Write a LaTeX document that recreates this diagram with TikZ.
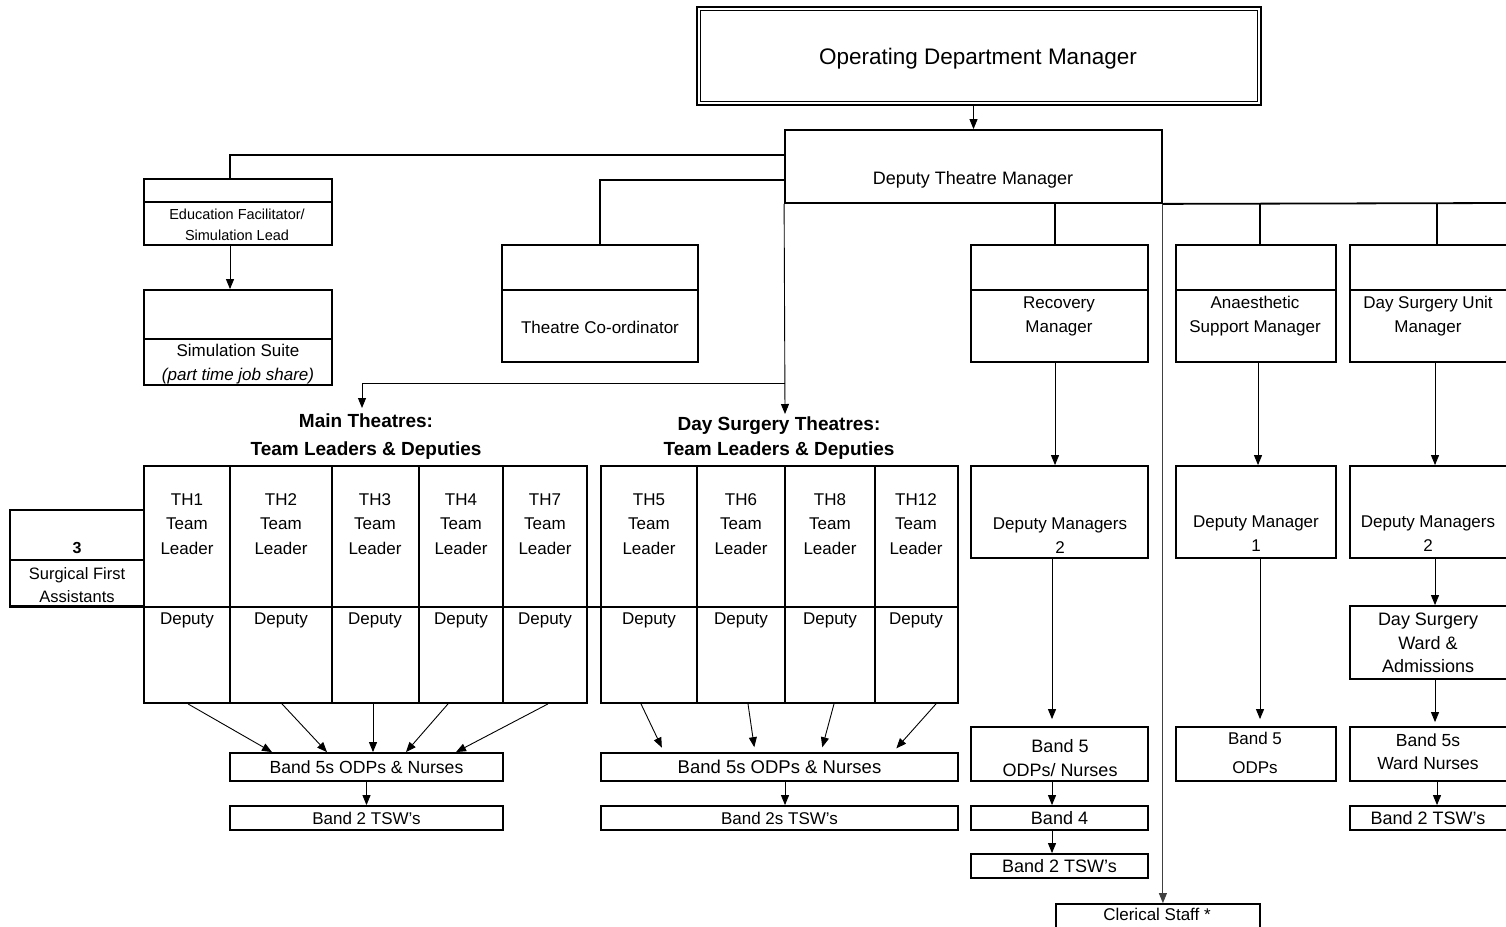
\documentclass[tikz,border=0pt]{standalone}
\usepackage{fontspec}
\setmainfont{Liberation Sans}
\usetikzlibrary{arrows.meta,calc}
\tikzset{
  bx/.style={draw, line width=1.8pt, inner sep=0pt, rectangle, font=\fontsize{17}{24}\selectfont},
  conn/.style={line width=1.8pt},
  arr/.style={line width=0.9pt, -{Triangle[length=10pt,width=8pt]}},
  lbl/.style={inner sep=0pt, align=center, font=\fontsize{17}{24}\selectfont},
  head/.style={inner sep=0pt, align=center, font=\bfseries\fontsize{19}{28}\selectfont},
}
\newcommand{\mybox}[6][]{\node[bx,#1, minimum width={(#5-#3)*1pt}, minimum height={(#6-#4)*1pt}] (#2) at ({(#3+#5)/2},{(#4+#6)/2}) {};}
\begin{document}
\begin{tikzpicture}[x=1pt,y=-1pt]
\clip (0,0) rectangle (1506,926);
\fill[white] (0,0) rectangle (1506,926);

% Operating Department Manager
\mybox[line width=1.7pt]{odm}{697}{7}{1261}{105}
\draw[line width=0.8pt] ($(odm.north west)+(4,4)$) rectangle ($(odm.south east)+(-4,-4)$);
\node[lbl, font=\fontsize{22.5}{24}\selectfont] (odmt) at (978,59) {Operating Department Manager};

% Deputy Theatre Manager
\mybox{dtm}{785}{130}{1162}{203}
\node[lbl, font=\fontsize{18}{24}\selectfont] (dtmt) at (973,180) {Deputy Theatre Manager};
\draw[arr] (dtm.north |- odm.south) -- (dtm.north);

% Education facilitator
\mybox{edu}{144}{179}{332}{245}
\draw[conn] (edu.west |- 0,202) -- (edu.east |- 0,202);
\node[lbl, font=\fontsize{14.5}{21}\selectfont] (edut) at (237,225) {Education Facilitator/\\Simulation Lead};

% Simulation suite
\mybox{sim}{144}{290}{332}{385}
\draw[conn] (sim.west |- 0,339) -- (sim.east |- 0,339);
\node[lbl] (simt) at (238,364) {Simulation Suite\\\textit{(part time job share)}};

% Theatre co-ordinator
\mybox{tc}{502}{245}{698}{362}
\draw[conn] (tc.west |- 0,290) -- (tc.east |- 0,290);
\node[lbl] (tct) at (600,327) {Theatre Co-ordinator};

% connectors from DTM to the left
\draw[conn] (dtm.west |- 0,155) -| (edu.north -| 230,0);
\draw[conn] (dtm.west |- 0,180) -| (tc.north);
\draw[arr] (edu.south -| 230,0) -- (sim.north -| 230,0);

% headings
\node[head] (mth) at (366,437) {Main Theatres:\\Team Leaders \& Deputies};
\node[head, font=\bfseries\fontsize{19}{25}\selectfont] (dsh) at (779,438) {Day Surgery Theatres:\\Team Leaders \& Deputies};
\coordinate (split) at (785,383);
\coordinate (mtin) at (362,408);
\coordinate (dsin) at (785,414);
\draw[arr] (dtm.south west) -- (dsin);
\draw[arr] (split) -| (mtin);

% Surgical first assistants
\mybox{sfa}{10}{510}{144}{606}
\draw[conn] (sfa.west |- 0,560) -- (sfa.east |- 0,560);
\node[lbl, font=\bfseries\fontsize{16}{24}\selectfont] (sfan) at (77,548) {3};
\node[lbl, font=\fontsize{16.5}{23}\selectfont] (sfat) at (77,585) {Surgical First\\Assistants};

% main theatre grid
\mybox{m1}{144}{466}{230}{703}
\mybox{m2}{230}{466}{332}{703}
\mybox{m3}{332}{466}{419}{703}
\mybox{m4}{419}{466}{503}{703}
\mybox{m5}{503}{466}{587}{703}
% day surgery grid
\mybox{d1}{601}{466}{697}{703}
\mybox{d2}{697}{466}{785}{703}
\mybox{d3}{785}{466}{875}{703}
\mybox{d4}{875}{466}{958}{703}
\draw[conn] (sfa.south west) -- (d4.east |- sfa.south);

\foreach \n/\x/\t in {m1/187/TH1, m2/281/TH2, m3/375/TH3, m4/461/TH4, m5/545/TH7, d1/649/TH5, d2/741/TH6, d3/830/TH8, d4/916/TH12}{
  \node[lbl, font=\fontsize{17}{24.5}\selectfont] (\n t) at (\x,524) {\t\\Team\\Leader};
  \node[lbl] (\n d) at (\x,620) {Deputy};
}

% band boxes main
\node[bx, font=\fontsize{17.6}{24}\selectfont, minimum width=273pt, minimum height=28pt] (mb5) at (366.5,767) {Band 5s ODPs \& Nurses};
\node[bx, minimum width=273pt, minimum height=24pt] (mb2) at (366.5,818) {Band 2 TSW's};
\draw[arr] (mb5.south) -- (mb2.north);
\draw[arr] (m1.south -| 188,0) -- (mb5.north -| 272,0);
\draw[arr] (m2.south -| 282,0) -- (mb5.north -| 327,0);
\draw[arr] (m3.south -| 373,0) -- (mb5.north -| 373,0);
\draw[arr] (m4.south -| 448,0) -- (mb5.north -| 406,0);
\draw[arr] (m5.south -| 548,0) -- (mb5.north -| 456,0);

% band boxes day
\node[bx, font=\fontsize{18.5}{24}\selectfont, minimum width=357pt, minimum height=28pt] (db5) at (779.5,767) {Band 5s ODPs \& Nurses};
\node[bx, minimum width=357pt, minimum height=24pt] (db2) at (779.5,818) {Band 2s TSW's};
\draw[arr] (db5.south -| 785,0) -- (db2.north -| 785,0);
\draw[arr, shorten >=5pt] (d1.south -| 641,0) -- (db5.north -| 664,0);
\draw[arr, shorten >=5pt] (d2.south -| 748,0) -- (db5.north -| 755,0);
\draw[arr, shorten >=5pt] (d3.south -| 834,0) -- (db5.north -| 821,0);
\draw[arr, shorten >=5pt] (d4.south -| 936,0) -- (db5.north -| 893,0);

% right side: DTM bottom extension
\coordinate (rend) at (1510,203);
\draw[conn] (dtm.south east) -- (rend);

% Recovery
\mybox{rec}{971}{245}{1148}{362}
\draw[conn] (rec.west |- 0,290) -- (rec.east |- 0,290);
\node[lbl] (rect) at (1059,316) {Recovery\\Manager};
\draw[conn] (rec.north -| 1055,0) -- (dtm.south -| 1055,0);
\mybox{rdm}{971}{466}{1148}{558}
\node[lbl] (rdmt) at (1060,536) {Deputy Managers\\2};
\mybox{rb5}{971}{727}{1148}{781}
\node[lbl, font=\fontsize{18}{24}\selectfont] (rb5t) at (1060,758) {Band 5\\ODPs/ Nurses};
\node[bx, font=\fontsize{18}{24}\selectfont, minimum width=177pt, minimum height=24pt] (rb4) at (1059.5,818) {Band 4};
\node[bx, font=\fontsize{18}{24}\selectfont, minimum width=177pt, minimum height=24pt] (rb2) at (1059.5,866) {Band 2 TSW's};
\draw[arr] (rec.south -| 1055,0) -- (rdm.north -| 1055,0);
\draw[arr, shorten >=7pt] (rdm.south -| 1052,0) -- (rb5.north -| 1052,0);
\draw[arr] (rb5.south -| 1052,0) -- (rb4.north -| 1052,0);
\draw[arr] (rb4.south -| 1052,0) -- (rb2.north -| 1052,0);

% Anaesthetic support
\mybox{ana}{1176}{245}{1336}{362}
\draw[conn] (ana.west |- 0,290) -- (ana.east |- 0,290);
\node[lbl] (anat) at (1255,316) {Anaesthetic\\Support Manager};
\draw[conn] (ana.north -| 1260,0) -- (dtm.south -| 1260,0);
\mybox{adm}{1176}{466}{1336}{558}
\node[lbl] (admt) at (1256,534) {Deputy Manager\\1};
\mybox{ab5}{1176}{727}{1336}{781}
\node[lbl, font=\fontsize{17}{29}\selectfont] (ab5t) at (1255,753) {Band 5\\ODPs};
\draw[arr] (ana.south -| 1258,0) -- (adm.north -| 1258,0);
\draw[arr, shorten >=7pt] (adm.south -| 1260,0) -- (ab5.north -| 1260,0);

% Day surgery unit
\mybox{dsu}{1350}{245}{1512}{362}
\draw[conn] (dsu.west |- 0,290) -- (dsu.east |- 0,290);
\node[lbl] (dsut) at (1428,316) {Day Surgery Unit\\Manager};
\draw[conn] (dsu.north -| 1437,0) -- (dtm.south -| 1437,0);
\mybox{ddm}{1350}{466}{1512}{558}
\node[lbl] (ddmt) at (1428,534) {Deputy Managers\\2};
\mybox{dwa}{1350}{606}{1512}{679}
\node[lbl, font=\fontsize{18}{23.5}\selectfont] (dwat) at (1428,643) {Day Surgery\\Ward \&\\Admissions};
\mybox{dwn}{1350}{727}{1512}{781}
\node[lbl, font=\fontsize{17.5}{23}\selectfont] (dwnt) at (1428,752) {Band 5s\\Ward Nurses};
\mybox{dtw}{1350}{806}{1512}{830}
\node[lbl, font=\fontsize{18}{24}\selectfont] (dtwt) at (1428,818) {Band 2 TSW's};
\draw[arr] (dsu.south -| 1435,0) -- (ddm.north -| 1435,0);
\draw[arr] (ddm.south -| 1435,0) -- (dwa.north -| 1435,0);
\draw[arr, shorten >=4pt] (dwa.south -| 1435,0) -- (dwn.north -| 1435,0);
\draw[arr] (dwn.south -| 1437,0) -- (dtw.north -| 1437,0);

% Clerical staff
\mybox{cler}{1056}{904}{1260}{932}
\node[lbl] (clert) at (1157,914) {Clerical Staff *};
\draw[arr, draw=black!75] (dtm.south east) -- (cler.north -| dtm.south east);
\end{tikzpicture}
\end{document}
